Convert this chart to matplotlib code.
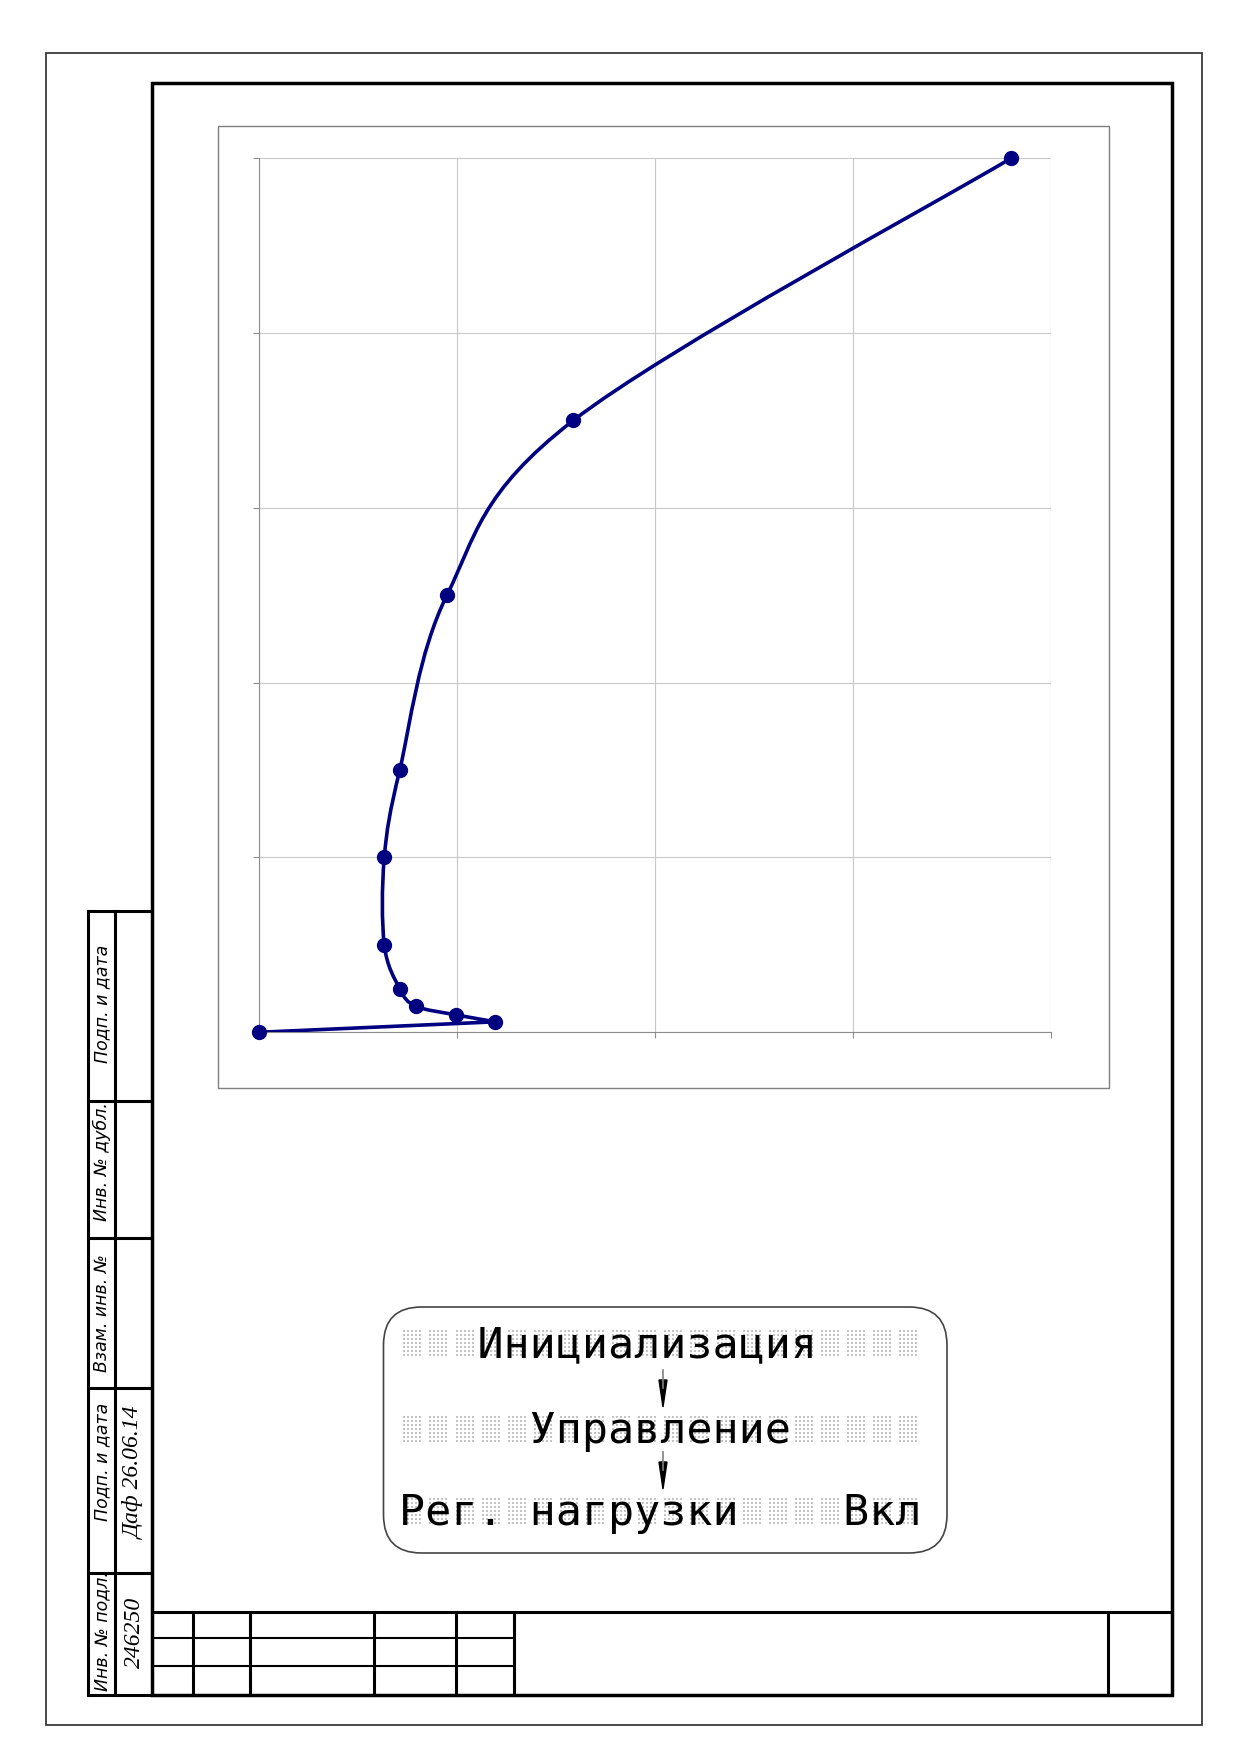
import numpy as np
import matplotlib
matplotlib.use('Agg')
import matplotlib.pyplot as plt
from matplotlib.path import Path
from matplotlib.patches import PathPatch, Rectangle, FancyBboxPatch, Polygon

# ---------------- data ----------------
load_x = [0, 59.7, 49.7, 39.6, 35.6, 31.7, 31.7, 35.6, 47.5, 79.4, 189.9]
load_y = [0, 1.2, 2.0, 3.0, 5.0, 10.0, 20.0, 30.0, 50.0, 70.0, 100.0]
x_ticks = [0, 50, 100, 150, 200]
y_ticks = [0, 20, 40, 60, 80, 100]

stamp_labels = ["Подп. и дата", "Инв. № дубл.", "Взам. инв. №", "Подп. и дата", "Инв. № подл."]
stamp_values = ["", "", "", "Даф 26.06.14", "246250"]
lcd_lines = ["   Инициализация    ", "     Управление     ", "Рег. нагрузки    Вкл"]

W, H = 1239, 1754
fig = plt.figure(figsize=(W / 100, H / 100), dpi=100)
bg = fig.add_axes([0, 0, 1, 1])
bg.set_xlim(0, W)
bg.set_ylim(H, 0)
bg.axis('off')


def seg(x0, y0, x1, y1, lw=2.2, color='black'):
    bg.plot([x0, x1], [y0, y1], lw=lw, color=color, solid_capstyle='projecting')


# outer thin frame
bg.add_patch(Rectangle((45.7, 52.7), 1201.7 - 45.7, 1725 - 52.7, fill=False,
                       ec='#3a3a3a', lw=1.3))
# inner thick frame
bg.add_patch(Rectangle((152.3, 83.3), 1171.7 - 152.3, 1695 - 83.3, fill=False,
                       ec='black', lw=2.5))

# left stamp strip
strip_y = [911, 1101, 1238, 1388, 1573, 1695]
seg(88.3, 911, 88.3, 1695)
seg(115, 911, 115, 1695)
for yy in strip_y:
    seg(88.3, yy, 152.3, yy)
label_centers = [1004, 1162, 1313, 1462, 1631]
for lab, cy in zip(stamp_labels, label_centers):
    bg.text(102, cy, lab, rotation=90, ha='center', va='center', fontsize=12.5,
            style='italic', family=['Liberation Sans Narrow', 'DejaVu Sans'])
value_centers = [0, 0, 0, 1473, 1632]
for val, cy in zip(stamp_values, value_centers):
    if val:
        bg.text(134, cy, val, rotation=90, ha='center', va='center', fontsize=17,
                style='italic', family=['Liberation Serif', 'DejaVu Serif'])

# title block
tb_top = 1611.5
seg(152.3, tb_top, 1171.7, tb_top)
for xx in [193.3, 250, 374, 455.7, 514, 1107.7]:
    seg(xx, tb_top, xx, 1695)
for yy in [1638.3, 1665.7]:
    seg(152.3, yy, 514, yy, lw=1.5)

# chart area border
bg.add_patch(Rectangle((218.3, 125.7), 1108.7 - 218.3, 1088.3 - 125.7, fill=False,
                       ec='#7f7f7f', lw=1.0))

# ---------------- chart ----------------
ax = fig.add_axes([258.7 / W, 1 - 1032.3 / H, (1051 - 258.7) / W, (1032.3 - 158.3) / H])
ax.set_xlim(0, 200)
ax.set_ylim(0, 100)
ax.set_xticks(x_ticks)
ax.set_yticks(y_ticks)
ax.tick_params(labelbottom=False, labelleft=False, length=4.3, width=0.8,
               color='#909090', direction='out')
ax.grid(True, color='#c8c8c8', lw=0.8)
ax.set_axisbelow(True)
for s in ['top', 'right']:
    ax.spines[s].set_visible(False)
for s in ['left', 'bottom']:
    ax.spines[s].set_color('#8c8c8c')
    ax.spines[s].set_linewidth(0.8)

# smoothed line (cardinal spline -> cubic Bezier), tangents damped at sharp turns
pts = np.column_stack([load_x, load_y]).astype(float)
n = len(pts)
sx, sy = 792.3 / 200.0, 874.0 / 100.0  # pixel aspect of data units
tang = []
for i in range(n):
    p_prev = pts[i - 1] if i > 0 else pts[i]
    p_next = pts[i + 1] if i < n - 1 else pts[i]
    t = (p_next - p_prev) / 6.0
    if 0 < i < n - 1:
        a = (pts[i] - pts[i - 1]) * [sx, sy]
        b = (pts[i + 1] - pts[i]) * [sx, sy]
        cosang = np.dot(a, b) / (np.linalg.norm(a) * np.linalg.norm(b))
        t = t * max(0.0, min(1.0, (1 + cosang) / 1.0))
    tang.append(t)
verts = [pts[0]]
codes = [Path.MOVETO]
for i in range(n - 1):
    verts += [pts[i] + tang[i], pts[i + 1] - tang[i + 1], pts[i + 1]]
    codes += [Path.CURVE4] * 3
ax.add_patch(PathPatch(Path(verts, codes), fc='none', ec='#000080', lw=2.6,
                       capstyle='round', joinstyle='round', zorder=4))
ax.plot(load_x, load_y, 'o', color='#000080', ms=10, clip_on=False, zorder=5)

# ---------------- LCD display ----------------
bg.add_patch(FancyBboxPatch((383.5, 1307), 947 - 383.5, 1553 - 1307,
                            boxstyle='round,pad=0,rounding_size=38',
                            fc='white', ec='#444444', lw=1.2))
row_tops = [1329, 1415.3, 1497]
cell_x0, pitch, dot = 402.7, 26.1, 4.0
xs, ys = [], []
for rt in row_tops:
    for c in range(20):
        for i in range(5):
            for j in range(7):
                xs.append(cell_x0 + c * pitch + i * dot + 1.6)
                ys.append(rt + j * dot + 1.6)
bg.scatter(xs, ys, marker='s', s=3.0, color='#c4c4c4', lw=0, zorder=2)
for line, rt in zip(lcd_lines, row_tops):
    bg.text(cell_x0 + 9.75 - pitch / 2, rt + 28, line, family='DejaVu Sans Mono',
            fontsize=31.2, weight='normal', va='baseline', ha='left', zorder=3)

for y0 in [1370, 1452]:
    seg(663, y0, 663, y0 + 18, lw=1.2, color='#808080')
    bg.add_patch(Polygon([(659, y0 + 10), (667, y0 + 10), (663, y0 + 37)],
                         closed=True, color='black'))

fig.savefig('out.png', dpi=100)
